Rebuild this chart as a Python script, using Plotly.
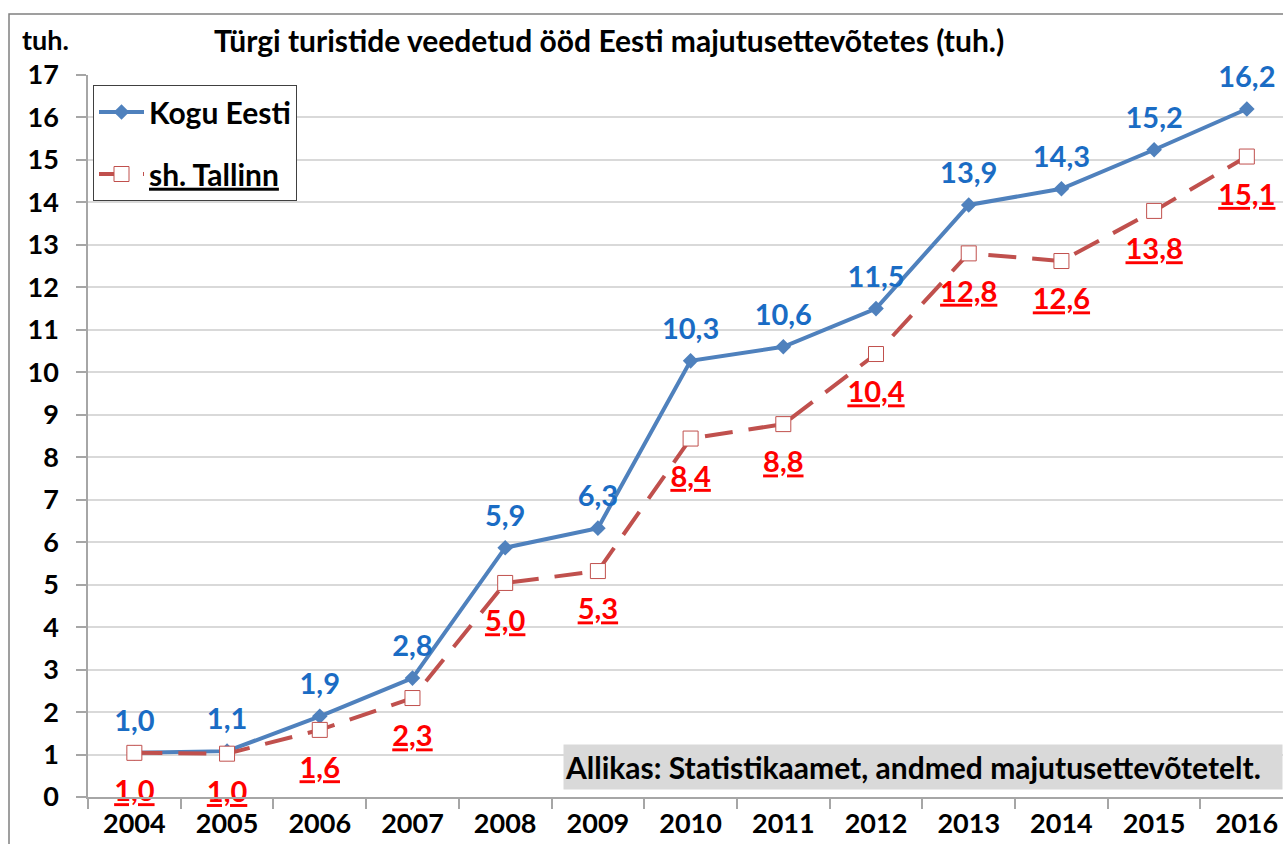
import plotly.graph_objects as go

years = ["2004", "2005", "2006", "2007", "2008", "2009", "2010", "2011", "2012", "2013", "2014", "2015", "2016"]
kogu_eesti = [1.04, 1.08, 1.9, 2.8, 5.87, 6.33, 10.27, 10.6, 11.5, 13.94, 14.32, 15.24, 16.2]
tallinn = [1.04, 1.02, 1.58, 2.33, 5.04, 5.32, 8.44, 8.78, 10.43, 12.8, 12.62, 13.8, 15.08]

title_text = "Türgi turistide veedetud ööd Eesti majutusettevõtetes (tuh.)"
unit_text = "tuh."
source_text = "Allikas: Statistikaamet, andmed majutusettevõtetelt."

FONT = "Lato"
BLUE = "#4f81bd"
RED = "#c0504d"
LBLUE = "#1a6cc4"
LRED = "#ff0000"

def fmt(v):
    return f"{v:.1f}".replace(".", ",")

fig = go.Figure()
fig.add_trace(go.Scatter(
    x=years, y=kogu_eesti, name="Kogu Eesti", mode="lines+markers",
    line=dict(color=BLUE, width=4),
    marker=dict(symbol="diamond", size=12, color=BLUE),
    legendgroup="a",
))
fig.add_trace(go.Scatter(
    x=years, y=tallinn, name='<span style="text-decoration:underline">sh. Tallinn</span>',
    mode="lines+markers",
    line=dict(color=RED, width=4, dash="28px,16px"),
    marker=dict(symbol="square", size=15, color="white", line=dict(color=RED, width=1)),
    legendgroup="b",
))
# data labels (text placed by the library next to invisible markers)
fig.add_trace(go.Scatter(
    x=years, y=kogu_eesti, mode="markers+text", showlegend=False, hoverinfo="skip",
    marker=dict(size=22, opacity=0), cliponaxis=False,
    text=[fmt(v) for v in kogu_eesti], textposition="top center",
    textfont=dict(family=FONT, size=29, color=LBLUE, weight="bold"),
))
fig.add_trace(go.Scatter(
    x=years, y=tallinn, mode="markers+text", showlegend=False, hoverinfo="skip",
    marker=dict(size=41, opacity=0), cliponaxis=False,
    text=[fmt(v) for v in tallinn], textposition="bottom center",
    textfont=dict(family=FONT, size=29, color=LRED, weight="bold", lineposition="under"),
))

annotations = [
    dict(x=(609 - 88) / 1195, y=(797 - 40) / 722, xref="paper", yref="paper",
         xanchor="center", yanchor="middle",
         text=title_text, showarrow=False,
         font=dict(family=FONT, size=30, color="black", weight="bold")),
    dict(x=(45 - 88) / 1195, y=(797 - 40) / 722, xref="paper", yref="paper",
         xanchor="center", yanchor="middle",
         text=unit_text, showarrow=False,
         font=dict(family=FONT, size=27, color="black", weight="bold")),
    dict(x=1.0, y=(797 - 767) / 722, xref="paper", yref="paper",
         xanchor="right", yanchor="middle", text=source_text, showarrow=False,
         bgcolor="#d9d9d9", width=716, height=42, align="left",
         font=dict(family=FONT, size=30, color="black", weight="bold")),
]

shapes = [dict(type="rect", xref="paper", yref="paper",
               x0=(9 - 88) / 1195, x1=1.05, y0=-0.2, y1=(797 - 14) / 722,
               line=dict(color="#808080", width=1.5), layer="below")]

fig.update_layout(
    width=1283, height=844,
    margin=dict(l=88, r=0, t=75, b=47),
    paper_bgcolor="white", plot_bgcolor="white",
    showlegend=True,
    legend=dict(x=(93 - 88) / 1195, y=(797 - 85) / 722, xanchor="left", yanchor="top",
                bgcolor="white", bordercolor="#404040", borderwidth=1,
                font=dict(family=FONT, size=30, color="black", weight="bold"),
                itemwidth=45, tracegroupgap=20),
    annotations=annotations,
    shapes=shapes,
    font=dict(family=FONT),
)
fig.update_xaxes(
    type="category", range=[-0.5, 12.39],
    showgrid=False, showline=True, linecolor="#a6a6a6", linewidth=1.5,
    ticks="outside", ticklen=10, tickcolor="#a6a6a6", tickwidth=1.5, tickson="boundaries",
    tickfont=dict(family=FONT, size=27, color="black", weight="bold"),
    ticklabelstandoff=2,
)
fig.update_yaxes(
    range=[0, 17], dtick=1, showgrid=True, gridcolor="#d9d9d9", gridwidth=1.5,
    showline=True, linecolor="#a6a6a6", linewidth=1.5, zeroline=False,
    ticks="outside", ticklen=10, tickcolor="#a6a6a6", tickwidth=1.5,
    tickfont=dict(family=FONT, size=27, color="black", weight="bold"),
    ticklabelstandoff=12,
)

fig.write_html("out.html", config={"displayModeBar": False},
               post_script="document.body.style.margin='0';")
